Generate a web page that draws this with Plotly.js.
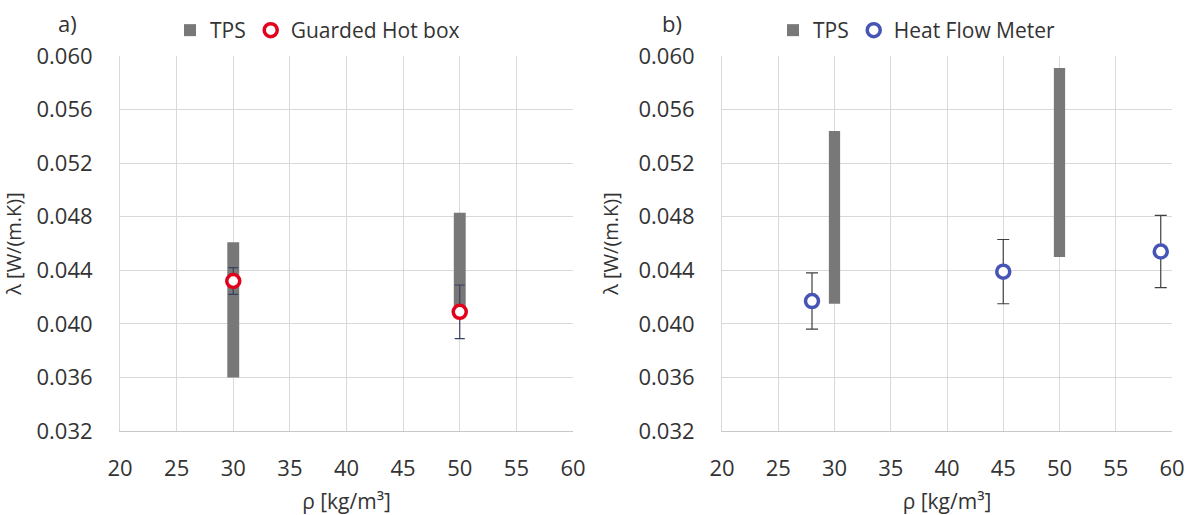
<!DOCTYPE html>
<html><head><meta charset="utf-8">
<script src="https://cdn.plot.ly/plotly-3.0.1.min.js"></script>
<style>html,body{margin:0;padding:0;background:#fff;}#c{width:1192px;height:515px;}</style>
</head><body><div id="c"></div>
<script>
// Panel a) data
const tpsA_x = [30, 50];
const tpsA_low = [0.0360, 0.0413];
const tpsA_high = [0.0461, 0.0483];
const ghb_x = [30, 50];
const ghb_y = [0.0432, 0.0409];
const ghb_err = [0.0010, 0.0020];
// Panel b) data
const tpsB_x = [30, 50];
const tpsB_low = [0.0415, 0.0450];
const tpsB_high = [0.0544, 0.0591];
const hfm_x = [28, 45, 59];
const hfm_y = [0.0417, 0.0439, 0.0454];
const hfm_err = [0.0021, 0.0024, 0.0027];
// Axis ticks
const xTicks = [20, 25, 30, 35, 40, 45, 50, 55, 60];
const yTicks = [0.032, 0.036, 0.040, 0.044, 0.048, 0.052, 0.056, 0.060];
const yTickText = ['0.032','0.036','0.040','0.044','0.048','0.052','0.056','0.060'];

const FONT = 'Open Sans, Liberation Sans, sans-serif';
const TXT = '#333333';
const W = 1192, H = 515;
const px = v => v / W, py = v => (H - v) / H;

const diff = (hi, lo) => hi.map((h, i) => h - lo[i]);

const traces = [
  {type:'bar', name:'TPS', x:tpsA_x, base:tpsA_low, y:diff(tpsA_high, tpsA_low), width:1.05,
   marker:{color:'#787878'}, xaxis:'x', yaxis:'y', legend:'legend', hoverinfo:'skip'},
  {type:'scatter', mode:'markers', name:'Guarded Hot box', x:ghb_x, y:ghb_y,
   error_y:{type:'data', array:ghb_err, visible:true, color:'#3a4060', thickness:1.2, width:5},
   marker:{symbol:'circle', size:13, color:'#ffffff', line:{color:'#e3001b', width:3.5}},
   xaxis:'x', yaxis:'y', legend:'legend'},
  {type:'bar', name:'TPS', x:tpsB_x, base:tpsB_low, y:diff(tpsB_high, tpsB_low), width:1.0,
   marker:{color:'#787878'}, xaxis:'x2', yaxis:'y2', legend:'legend2', hoverinfo:'skip'},
  {type:'scatter', mode:'markers', name:'Heat Flow Meter', x:hfm_x, y:hfm_y,
   error_y:{type:'data', array:hfm_err, visible:true, color:'#404040', thickness:1.2, width:6},
   marker:{symbol:'circle', size:13, color:'#ffffff', line:{color:'#4655b5', width:3.5}},
   xaxis:'x2', yaxis:'y2', legend:'legend2'}
];

function xa(dom){
  return {domain:dom, range:[20,60], tickvals:xTicks, ticktext:xTicks.map(String),
    showgrid:true, gridcolor:'#d9d9d9', gridwidth:1, zeroline:false,
    showline:true, linecolor:'#c8c8c8', linewidth:1,
    ticks:'', ticklabelstandoff:18, tickfont:{family:FONT, size:22, color:TXT},
    title:{text:'ρ [kg/m³]', font:{family:FONT, size:21, color:TXT}, standoff:12},
    fixedrange:true, automargin:false};
}
function ya(dom, anchor){
  return {domain:dom, range:[0.032,0.060], tickvals:yTicks, ticktext:yTickText, anchor:anchor,
    showgrid:true, gridcolor:'#d9d9d9', gridwidth:1, zeroline:false,
    showline:true, linecolor:'#d9d9d9', linewidth:1, mirror:false,
    ticks:'', ticklabelstandoff:22, tickfont:{family:FONT, size:22, color:TXT},
    title:{text:'λ [W/(m.K)]', font:{family:FONT, size:20, color:TXT}, standoff:14},
    fixedrange:true, automargin:false};
}

const layout = {
  width:W, height:H, margin:{l:0, r:0, t:0, b:0},
  paper_bgcolor:'#ffffff', plot_bgcolor:'#ffffff',
  showlegend:true, barmode:'overlay',
  font:{family:FONT, color:TXT},
  xaxis: Object.assign(xa([px(120), px(573)]), {anchor:'y'}),
  yaxis: ya([py(431), py(56)], 'x'),
  xaxis2: Object.assign(xa([px(722), px(1172)]), {anchor:'y2'}),
  yaxis2: ya([py(431), py(56)], 'x2'),
  legend:{orientation:'h', x:px(170), y:py(10), xanchor:'left', yanchor:'top',
    font:{family:FONT, size:21, color:TXT}, bgcolor:'rgba(0,0,0,0)', itemwidth:30, tracegroupgap:0},
  legend2:{orientation:'h', x:px(773), y:py(10), xanchor:'left', yanchor:'top',
    font:{family:FONT, size:21, color:TXT}, bgcolor:'rgba(0,0,0,0)', itemwidth:30, tracegroupgap:0},
  annotations:[
    {text:'a)', xref:'paper', yref:'paper', x:px(67), y:py(23), xanchor:'center', yanchor:'middle',
     showarrow:false, font:{family:FONT, size:22, color:TXT}},
    {text:'b)', xref:'paper', yref:'paper', x:px(672), y:py(23), xanchor:'center', yanchor:'middle',
     showarrow:false, font:{family:FONT, size:22, color:TXT}}
  ]
};

Plotly.newPlot('c', traces, layout, {staticPlot:true, displayModeBar:false});
</script></body></html>
